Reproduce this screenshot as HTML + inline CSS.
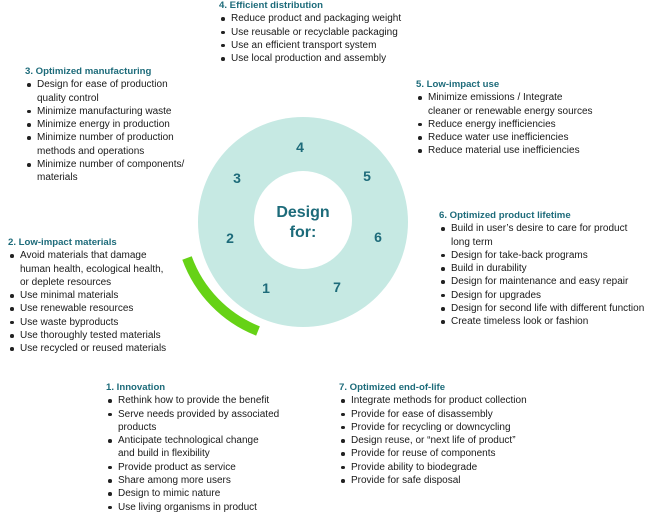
<!DOCTYPE html>
<html><head><meta charset="utf-8"><style>
body{margin:0;width:657px;height:517px;background:#fff;position:relative;overflow:hidden;font-family:"Liberation Sans",sans-serif;color:#1a1a1a}
.b{position:absolute;font-size:10px;line-height:13.3px;white-space:nowrap}
.b h{display:block;color:#1d6b7a;font-weight:bold;font-size:9.6px}
.b div{position:relative;padding-left:12px}
.b div.d::before{content:"";position:absolute;left:2px;top:5px;width:3.5px;height:3.5px;border-radius:50%;background:#222}
.n{position:absolute;color:#1d6b7a;font-weight:bold;font-size:14px;transform:translate(-50%,-50%)}
</style></head><body>
<svg width="657" height="517" style="position:absolute;left:0;top:0">
<circle cx="303" cy="222" r="105" fill="#c6e9e3"/>
<circle cx="303" cy="220" r="49" fill="#fff"/>
<path d="M187 258 A124 124 0 0 0 258 331" fill="none" stroke="#66d216" stroke-width="10"/>
</svg>
<div class="n" style="left:300px;top:147px">4</div>
<div class="n" style="left:237px;top:178px">3</div>
<div class="n" style="left:367px;top:176px">5</div>
<div class="n" style="left:230px;top:238px">2</div>
<div class="n" style="left:378px;top:237px">6</div>
<div class="n" style="left:266px;top:288px">1</div>
<div class="n" style="left:337px;top:287px">7</div>
<div style="position:absolute;left:253px;top:203px;width:100px;text-align:center;color:#1d6b7a;font-weight:bold;font-size:16px;line-height:20px">Design<br>for:</div>

<div class="b" style="left:219px;top:-1px"><h>4. Efficient distribution</h>
<div class="d">Reduce product and packaging weight</div><div class="d">Use reusable or recyclable packaging</div><div class="d">Use an efficient transport system</div><div class="d">Use local production and assembly</div></div>

<div class="b" style="left:25px;top:65px"><h>3. Optimized manufacturing</h>
<div class="d">Design for ease of production</div><div>quality control</div><div class="d">Minimize manufacturing waste</div><div class="d">Minimize energy in production</div><div class="d">Minimize number of production</div><div>methods and operations</div><div class="d">Minimize number of components/</div><div>materials</div></div>

<div class="b" style="left:416px;top:78px"><h>5. Low-impact use</h>
<div class="d">Minimize emissions / Integrate</div><div>cleaner or renewable energy sources</div><div class="d">Reduce energy inefficiencies</div><div class="d">Reduce water use inefficiencies</div><div class="d">Reduce material use inefficiencies</div></div>

<div class="b" style="left:439px;top:209px"><h>6. Optimized product lifetime</h>
<div class="d">Build in user’s desire to care for product</div><div>long term</div><div class="d">Design for take-back programs</div><div class="d">Build in durability</div><div class="d">Design for maintenance and easy repair</div><div class="d">Design for upgrades</div><div class="d">Design for second life with different function</div><div class="d">Create timeless look or fashion</div></div>

<div class="b" style="left:8px;top:236px"><h>2. Low-impact materials</h>
<div class="d">Avoid materials that damage</div><div>human health, ecological health,</div><div>or deplete resources</div><div class="d">Use minimal materials</div><div class="d">Use renewable resources</div><div class="d">Use waste byproducts</div><div class="d">Use thoroughly tested materials</div><div class="d">Use recycled or reused materials</div></div>

<div class="b" style="left:106px;top:381px"><h>1. Innovation</h>
<div class="d">Rethink how to provide the benefit</div><div class="d">Serve needs provided by associated</div><div>products</div><div class="d">Anticipate technological change</div><div>and build in flexibility</div><div class="d">Provide product as service</div><div class="d">Share among more users</div><div class="d">Design to mimic nature</div><div class="d">Use living organisms in product</div></div>

<div class="b" style="left:339px;top:381px"><h>7. Optimized end-of-life</h>
<div class="d">Integrate methods for product collection</div><div class="d">Provide for ease of disassembly</div><div class="d">Provide for recycling or downcycling</div><div class="d">Design reuse, or “next life of product”</div><div class="d">Provide for reuse of components</div><div class="d">Provide ability to biodegrade</div><div class="d">Provide for safe disposal</div></div>
</body></html>
